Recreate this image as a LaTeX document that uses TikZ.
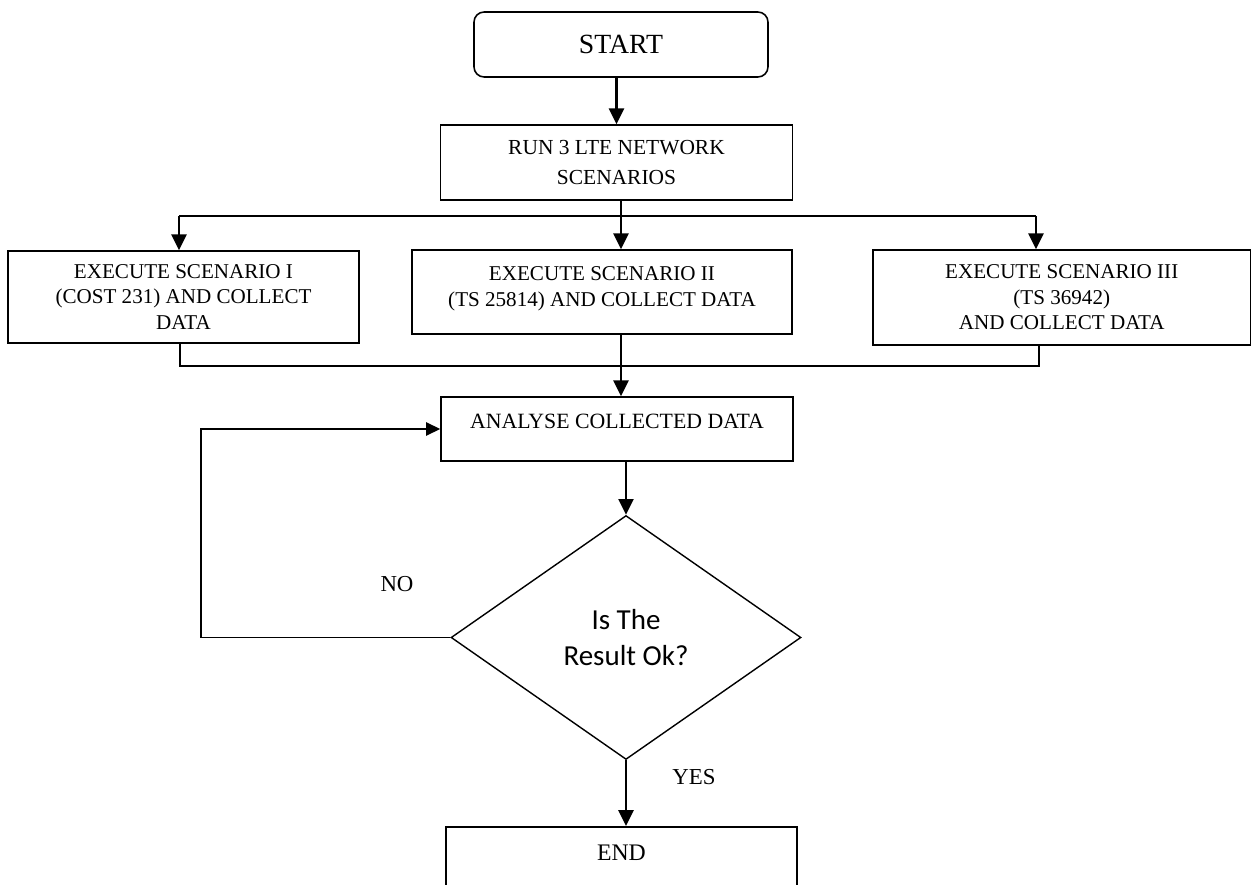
\documentclass[tikz,border=0pt]{standalone}
\usepackage{fontspec}
\setmainfont{Liberation Serif}
\newfontfamily\decfont{Carlito}
\usetikzlibrary{shapes.geometric,arrows.meta}

\begin{document}
\begin{tikzpicture}[x=0.02cm,y=-0.02cm,
   box/.style={draw,line width=0.9pt,align=center,inner sep=0pt},
   arr/.style={-{Triangle[width=8.5pt,length=9pt]},line width=1.5pt},
   back/.style={-{Triangle[width=7.5pt,length=8pt]},line width=0.9pt},
   link/.style={line width=0.9pt},
   scen/.style={box,font=\fontsize{12}{14.5}\selectfont}]
   \useasboundingbox (0,0) rectangle (1252,885);

   % main column
   \node[box,rounded corners=5.7pt,minimum width=5.88cm,minimum height=1.3cm,
      font=\fontsize{15.8}{18}\selectfont] (start) at (621,44.5) {START};
   \node[box,minimum width=7.04cm,minimum height=1.5cm,
      font=\fontsize{12.2}{17}\selectfont] (run) at (616.5,162.5) {RUN 3 LTE NETWORK\\SCENARIOS};

   % the three scenarios
   \node[scen,minimum width=7.02cm,minimum height=1.84cm] (s1) at (183.5,297)
      {EXECUTE SCENARIO I\\(COST 231) AND COLLECT\\DATA};
   \node[scen,minimum width=7.6cm,minimum height=1.68cm,text depth=6pt] (s2) at (602,292)
      {EXECUTE SCENARIO II\\(TS 25814) AND COLLECT DATA};
   \node[scen,minimum width=7.55cm,minimum height=1.9cm] (s3) at (1061.75,297.5)
      {EXECUTE SCENARIO III\\(TS 36942)\\AND COLLECT DATA};

   \node[box,minimum width=7.04cm,minimum height=1.28cm,text depth=9pt,
      font=\fontsize{12.4}{14}\selectfont] (ana) at (617,429) {ANALYSE COLLECTED DATA};
   \node[diamond,draw,line width=0.8pt,inner sep=0pt,minimum width=7cm,minimum height=4.88cm,
      align=center,font=\decfont\fontsize{16.5}{20.4}\selectfont] (dec) at (626,637.5) {Is The\\Result Ok?};
   \node[box,anchor=north,minimum width=7.02cm,inner ysep=0.36cm,text depth=2cm,
      font=\fontsize{13.5}{16}\selectfont] (end) at (621.5,826) {END};

   \node[font=\fontsize{13}{15}\selectfont] (no) at (397,584) {NO};
   \node[font=\fontsize{13}{15}\selectfont] (yes) at (694,777) {YES};

   % fork and join
   \coordinate (fork) at (621,216);
   \coordinate (d1) at (179,216);
   \coordinate (d3) at (1036,216);
   \coordinate (join) at (621,366);
   \coordinate (j1) at (180,366);
   \coordinate (j3) at (1039,366);
   \coordinate (loop) at (201,634);

   \draw[arr] (start.south -| run) -- (run.north);
   \draw[link] (d1) -- (d3);
   \draw[arr] (run.south -| fork) -- (fork |- s2.north);
   \draw[arr] (d1) -- (d1 |- s1.north);
   \draw[arr] (d3) -- (d3 |- s3.north);

   \draw[link] (s1.south -| j1) -- (j1) -- (j3) -- (s3.south -| j3);
   \draw[arr] (s2.south -| join) -- (join |- ana.north);
   \draw[arr] (ana.south -| dec) -- (dec.north);
   \draw[back] (dec.west) -- (dec.west -| loop) |- (ana.west);
   \draw[arr] (dec.south) -- (dec.south |- end.north);
\end{tikzpicture}
\end{document}
